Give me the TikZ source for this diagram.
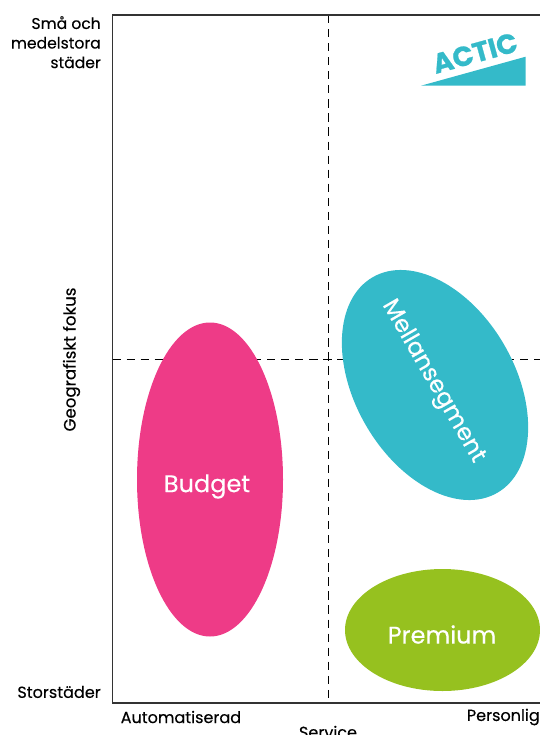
\documentclass[tikz,border=0pt]{standalone}
\usepackage{fontspec}
\setmainfont{Poppins}[FakeBold=0.25]
\newfontfamily\logofont{Poppins}[BoldFeatures={FakeBold=0.8}]
\usepackage{xcolor}
\usetikzlibrary{shapes,positioning}
\definecolor{acticblue}{HTML}{34BAC9}
\definecolor{budgetpink}{HTML}{EE3B87}
\definecolor{premiumgreen}{HTML}{96C11F}
\definecolor{axisgray}{HTML}{333333}

\begin{document}
\begin{tikzpicture}[
    x=0.03cm, y=-0.03cm,
    segment/.style={ellipse, inner sep=0pt},
    segmenttext/.style={inner sep=0pt, font=\fontsize{20.5}{21}\selectfont, text=white},
    axislabel/.style={inner sep=0pt, font=\fontsize{13.7}{16.7}\selectfont, text=black},
    axisline/.style={draw=axisgray, line width=1.1pt},
    midline/.style={draw=black, line width=0.8pt, dash pattern=on 7pt off 5pt}
]
\clip (0, 0) rectangle (540, 735);
\useasboundingbox (0, 0) rectangle (540, 735);

% Axis corners
\coordinate (topleft) at (112.5, 15);
\coordinate (topright) at (540, 15);
\coordinate (bottomleft) at (112.5, 703);
\coordinate (bottomright) at (540, 703);

% Dashed cross
\coordinate (midtop) at (328, 15);
\coordinate (midbottom) at (328, 703);
\coordinate (midleft) at (112.5, 359);
\coordinate (midright) at (540, 359);
\draw[midline] (midtop) -- (midbottom);
\draw[midline] (midleft) -- (midright);

% Segments
\node[segment, fill=budgetpink, minimum width=146*0.03cm, minimum height=314*0.03cm] (budget) at (210, 479.5) {};
\node[segmenttext] (budgettext) at (207, 486.5) {Budget};
\node[segment, fill=acticblue, minimum width=249*0.03cm, minimum height=160*0.03cm, rotate=-60] (mellan) at (435, 385) {};
\node[segmenttext, font=\fontsize{20.2}{21}\selectfont, rotate=-60] (mellantext) at (433, 381.5) {Mellansegment};
\node[segment, fill=premiumgreen, minimum width=195*0.03cm, minimum height=122*0.03cm] (premium) at (442.5, 630) {};
\node[segmenttext] (premiumtext) at (442, 634.5) {Premium};

% Axes
\draw[axisline] (topright) -- (topleft) -- (bottomleft) -- (bottomright);

% Logo
\coordinate (logoa) at (421, 85.7);
\coordinate (logob) at (525.7, 56.7);
\coordinate (logoc) at (525.7, 85.7);
\fill[acticblue] (logoa) -- (logob) -- (logoc) -- cycle;
\node[inner sep=0pt, rotate=15.5, text=acticblue, font=\logofont\bfseries\fontsize{23.5}{24}\selectfont] (logo) at (475, 53) {ACTIC};

% Axis labels
\node[axislabel, font=\fontsize{13.3}{16.7}\selectfont, align=right, anchor=north east] (small) at (101, 16) {Små och\\medelstora\\städer};
\node[axislabel, anchor=east] (big) at (101, 692) {Storstäder};
\node[axislabel, font=\fontsize{14.2}{16}\selectfont, rotate=90] (geo) at (71.5, 359.5) {Geografiskt fokus};
\node[axislabel, anchor=west] (auto) at (120.5, 717) {Automatiserad};
\node[axislabel, anchor=east] (personal) at (540, 717) {Personlig};
\node[axislabel] (service) at (328, 732) {Service};

\end{tikzpicture}
\end{document}
